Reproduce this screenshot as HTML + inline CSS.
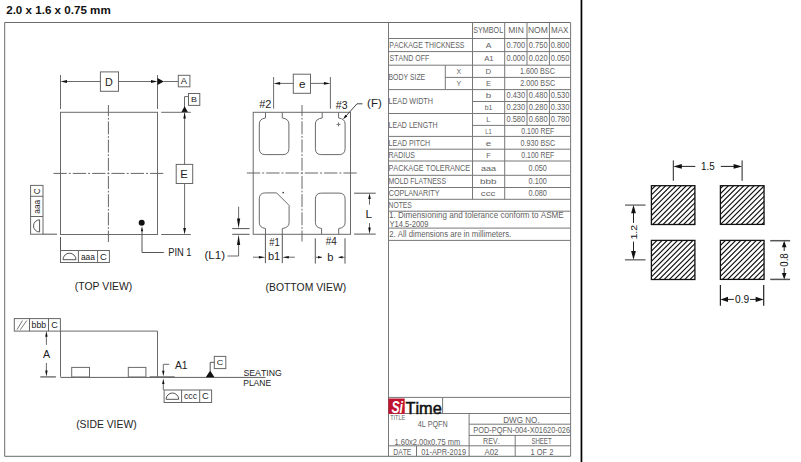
<!DOCTYPE html><html><head><meta charset="utf-8"><style>html,body{margin:0;padding:0;background:#fff;overflow:hidden}svg{display:block}text{font-family:"Liberation Sans",sans-serif;font-kerning:none}</style></head><body>
<svg width="801" height="462" viewBox="0 0 801 462">
<rect width="801" height="462" fill="#fff"/>
<text x="6.20" y="13.9" font-size="11" fill="#111" font-weight="bold" textLength="104.52" lengthAdjust="spacingAndGlyphs" >2.0 x 1.6 x 0.75 mm</text>
<line x1="4.7" y1="22.5" x2="570.5" y2="22.5" stroke="#6a6a6a" stroke-width="1"/>
<line x1="4.7" y1="22.5" x2="4.7" y2="456.3" stroke="#6a6a6a" stroke-width="1"/>
<line x1="4.7" y1="456.3" x2="570.5" y2="456.3" stroke="#6a6a6a" stroke-width="1"/>
<rect x="580.6" y="0" width="1.7" height="462" fill="#000"/>
<line x1="60.5" y1="75" x2="60.5" y2="109" stroke="#6a6a6a" stroke-width="1"/>
<line x1="157.5" y1="75" x2="157.5" y2="109" stroke="#6a6a6a" stroke-width="1"/>
<line x1="64" y1="81.5" x2="100.4" y2="81.5" stroke="#6a6a6a" stroke-width="1"/>
<line x1="118.5" y1="81.5" x2="154" y2="81.5" stroke="#6a6a6a" stroke-width="1"/>
<polygon points="60.5,81.5 67.00,80.10 67.00,82.90" fill="#111"/>
<polygon points="157.5,81.5 151.00,82.90 151.00,80.10" fill="#111"/>
<rect x="100.4" y="71.9" width="18.10" height="19.40" stroke="#666" stroke-width="1" fill="none" rx="0"/>
<text x="105.11" y="85.6" font-size="11.5" fill="#222" textLength="7.80" lengthAdjust="spacingAndGlyphs" >D</text>
<polygon points="157.5,78.1 157.5,84.9 163.8,81.5" fill="#111"/>
<line x1="163.5" y1="81.5" x2="178.3" y2="81.5" stroke="#6a6a6a" stroke-width="1"/>
<rect x="178.3" y="75.3" width="11.60" height="11.50" stroke="#666" stroke-width="1" fill="none" rx="0"/>
<text x="180.78" y="83.9" font-size="8.5" fill="#222" textLength="6.24" lengthAdjust="spacingAndGlyphs" >A</text>
<rect x="188.5" y="93.5" width="11.30" height="11.90" stroke="#666" stroke-width="1" fill="none" rx="0"/>
<text x="191.08" y="101.8" font-size="8.0" fill="#222" textLength="5.89" lengthAdjust="spacingAndGlyphs" >B</text>
<path d="M188.5,96.6 H184.5 V108" stroke="#6a6a6a" stroke-width="1" fill="none"/>
<polygon points="181.3,112.3 188.0,112.3 184.6,106.2" fill="#111"/>
<line x1="161.2" y1="112.3" x2="190.8" y2="112.3" stroke="#6a6a6a" stroke-width="1"/>
<line x1="161.2" y1="234.5" x2="190.8" y2="234.5" stroke="#6a6a6a" stroke-width="1"/>
<line x1="184.6" y1="112.3" x2="184.6" y2="164.4" stroke="#6a6a6a" stroke-width="1"/>
<line x1="184.6" y1="183.5" x2="184.6" y2="230" stroke="#6a6a6a" stroke-width="1"/>
<polygon points="184.6,112.6 185.90,118.60 183.30,118.60" fill="#111"/>
<polygon points="184.6,234.5 183.20,228.00 186.00,228.00" fill="#111"/>
<rect x="176.2" y="164.4" width="16.50" height="19.10" stroke="#666" stroke-width="1" fill="none" rx="0"/>
<text x="180.18" y="178.0" font-size="11.5" fill="#222" textLength="7.51" lengthAdjust="spacingAndGlyphs" >E</text>
<rect x="60.5" y="112.3" width="97.00" height="122.20" stroke="#6a6a6a" stroke-width="1" fill="none" rx="0"/>
<line x1="108.4" y1="105" x2="108.4" y2="242" stroke="#666" stroke-width="1" stroke-dasharray="13.0 1.7 1.8 1.7" stroke-dashoffset="-16.40"/>
<line x1="52.8" y1="173.4" x2="164.6" y2="173.4" stroke="#666" stroke-width="1" stroke-dasharray="13.3 2.0 2.0 2.0" stroke-dashoffset="-0.70"/>
<circle cx="141.7" cy="222.7" r="3" fill="#111"/>
<path d="M142,231 V252.5 H163.8" stroke="#555" stroke-width="1" fill="none"/>
<polygon points="142,226.3 143.20,231.30 140.80,231.30" fill="#111"/>
<text x="168.24" y="256.0" font-size="10" fill="#222" textLength="23.32" lengthAdjust="spacingAndGlyphs" >PIN 1</text>
<rect x="30.6" y="185.4" width="12.40" height="48.80" stroke="#666" stroke-width="1" fill="none" rx="0"/>
<line x1="30.6" y1="196.3" x2="43.0" y2="196.3" stroke="#666" stroke-width="1"/>
<line x1="30.6" y1="216.5" x2="43.0" y2="216.5" stroke="#666" stroke-width="1"/>
<g transform="translate(39.9,193.9) rotate(-90)"><text x="-0.42" y="0" font-size="8.2" fill="#222" textLength="5.93" lengthAdjust="spacingAndGlyphs" >C</text></g>
<g transform="translate(39.9,213.3) rotate(-90)"><text x="-0.35" y="0" font-size="8.6" fill="#222" textLength="13.75" lengthAdjust="spacingAndGlyphs" >aaa</text></g>
<path d="M39.6,219.8 A6.1,6.1 0 0 0 39.6,232 Z" stroke="#555" stroke-width="1" fill="none"/>
<line x1="43.0" y1="234.2" x2="57" y2="234.2" stroke="#555" stroke-width="1"/>
<line x1="60.5" y1="237" x2="60.5" y2="250.5" stroke="#555" stroke-width="1"/>
<rect x="60.5" y="250.5" width="48.90" height="12.00" stroke="#666" stroke-width="1" fill="none" rx="0"/>
<line x1="78.4" y1="250.5" x2="78.4" y2="262.5" stroke="#666" stroke-width="1"/>
<line x1="97.6" y1="250.5" x2="97.6" y2="262.5" stroke="#666" stroke-width="1"/>
<path d="M63,259.7 A6.5,6.5 0 0 1 76,259.7 Z" stroke="#555" stroke-width="1" fill="none"/>
<text x="80.94" y="259.7" font-size="8.8" fill="#222" textLength="14.06" lengthAdjust="spacingAndGlyphs" >aaa</text>
<text x="100.03" y="259.8" font-size="8.6" fill="#222" textLength="6.73" lengthAdjust="spacingAndGlyphs" >C</text>
<text x="74.76" y="289.9" font-size="10.5" fill="#222" textLength="57.48" lengthAdjust="spacingAndGlyphs" >(TOP VIEW)</text>
<rect x="253.2" y="112.3" width="97.30" height="122.00" stroke="#6a6a6a" stroke-width="1" fill="none" rx="0"/>
<line x1="273.6" y1="77" x2="273.6" y2="108.7" stroke="#6a6a6a" stroke-width="1"/>
<line x1="330.4" y1="77" x2="330.4" y2="108.7" stroke="#6a6a6a" stroke-width="1"/>
<line x1="277" y1="83.4" x2="293.3" y2="83.4" stroke="#6a6a6a" stroke-width="1"/>
<line x1="310.5" y1="83.4" x2="327" y2="83.4" stroke="#6a6a6a" stroke-width="1"/>
<polygon points="273.6,83.4 280.10,82.00 280.10,84.80" fill="#111"/>
<polygon points="330.4,83.4 323.90,84.80 323.90,82.00" fill="#111"/>
<rect x="293.3" y="74.2" width="17.20" height="19.10" stroke="#666" stroke-width="1" fill="none" rx="0"/>
<text x="299.00" y="87.8" font-size="11.5" fill="#222" textLength="6.52" lengthAdjust="spacingAndGlyphs" >e</text>
<text x="259.25" y="107.8" font-size="11" fill="#222" textLength="12.20" lengthAdjust="spacingAndGlyphs" >#2</text>
<text x="335.85" y="109.4" font-size="11" fill="#222" textLength="11.71" lengthAdjust="spacingAndGlyphs" >#3</text>
<line x1="302" y1="105" x2="302" y2="241.5" stroke="#666" stroke-width="1" stroke-dasharray="13.0 1.7 1.8 1.7" stroke-dashoffset="-16.30"/>
<line x1="246.2" y1="173" x2="358.2" y2="173" stroke="#666" stroke-width="1" stroke-dasharray="13.3 2.0 2.0 2.0" stroke-dashoffset="-0.70"/>
<path d="M265.5,112.3 V118 Q259.3,118.8 259.3,124 V148.6 Q259.3,154.6 265.3,154.6 H282.9 Q288.9,154.6 288.9,148.6 V124 Q288.9,118.8 282.3,118 V112.3" stroke="#6a6a6a" stroke-width="1" fill="none"/>
<path d="M322.2,112.3 V118 Q315.4,118.8 315.4,124 V148.6 Q315.4,154.6 321.4,154.6 H339.1 Q345.1,154.6 345.1,148.6 V124 Q345.1,118.8 338.6,118 V112.3" stroke="#6a6a6a" stroke-width="1" fill="none"/>
<path d="M265.5,234.3 V228.5 Q259.3,227.7 259.3,222.5 V198.9 Q259.3,192.9 265.3,192.9 H276.6 L289.1,205.4 V222.5 Q289.1,227.7 282.3,228.5 V234.3" stroke="#6a6a6a" stroke-width="1" fill="none"/>
<path d="M321.6,234.3 V228.5 Q315.4,227.7 315.4,222.5 V199.1 Q315.4,193.1 321.4,193.1 H339.1 Q345.1,193.1 345.1,199.1 V222.5 Q345.1,227.7 338.7,228.5 V234.3" stroke="#6a6a6a" stroke-width="1" fill="none"/>
<line x1="336.5" y1="124.4" x2="340.5" y2="124.4" stroke="#6a6a6a" stroke-width="0.9"/>
<line x1="338.5" y1="122.4" x2="338.5" y2="126.4" stroke="#6a6a6a" stroke-width="0.9"/>
<circle cx="283.2" cy="192.6" r="0.9" fill="#444"/>
<path d="M344.5,117.7 L357,103.8 H362.5" stroke="#444" stroke-width="1" fill="none"/>
<polygon points="343.0,119.3 345.39,114.73 347.31,116.47" fill="#111"/>
<text x="367.09" y="107.0" font-size="10.8" fill="#222" textLength="14.62" lengthAdjust="spacingAndGlyphs" >(F)</text>
<line x1="232.2" y1="228.6" x2="249.6" y2="228.6" stroke="#555" stroke-width="1"/>
<line x1="232.2" y1="234.3" x2="249.6" y2="234.3" stroke="#555" stroke-width="1"/>
<line x1="238.6" y1="206.7" x2="238.6" y2="220" stroke="#6a6a6a" stroke-width="1"/>
<polygon points="238.6,228.6 237.00,218.60 240.20,218.60" fill="#111"/>
<path d="M238.6,242 V256 H227.5" stroke="#6a6a6a" stroke-width="1" fill="none"/>
<polygon points="238.6,234.6 240.20,245.10 237.00,245.10" fill="#111"/>
<text x="204.48" y="259.2" font-size="10.8" fill="#222" textLength="20.53" lengthAdjust="spacingAndGlyphs" >(L1)</text>
<line x1="265.4" y1="234.3" x2="265.4" y2="263.2" stroke="#555" stroke-width="1"/>
<line x1="282.3" y1="234.3" x2="282.3" y2="263.2" stroke="#555" stroke-width="1"/>
<line x1="253" y1="257.2" x2="260" y2="257.2" stroke="#6a6a6a" stroke-width="1"/>
<polygon points="265.4,257.2 258.90,258.40 258.90,256.00" fill="#111"/>
<line x1="294.9" y1="257.2" x2="288" y2="257.2" stroke="#6a6a6a" stroke-width="1"/>
<polygon points="282.3,257.2 288.80,256.00 288.80,258.40" fill="#111"/>
<text x="269.26" y="245.7" font-size="10" fill="#222" textLength="10.50" lengthAdjust="spacingAndGlyphs" >#1</text>
<text x="267.99" y="260.3" font-size="10.5" fill="#222" textLength="12.25" lengthAdjust="spacingAndGlyphs" >b1</text>
<line x1="315.3" y1="238.3" x2="315.3" y2="263.6" stroke="#555" stroke-width="1"/>
<line x1="345" y1="238.3" x2="345" y2="263.6" stroke="#555" stroke-width="1"/>
<line x1="315.3" y1="257.3" x2="322" y2="257.3" stroke="#6a6a6a" stroke-width="1"/>
<polygon points="322,257.3 318.00,258.50 318.00,256.10" fill="#111"/>
<line x1="345" y1="257.3" x2="338.5" y2="257.3" stroke="#6a6a6a" stroke-width="1"/>
<polygon points="338.5,257.3 342.50,256.10 342.50,258.50" fill="#111"/>
<text x="325.66" y="244.6" font-size="10.3" fill="#222" textLength="11.03" lengthAdjust="spacingAndGlyphs" >#4</text>
<text x="327.18" y="260.7" font-size="10.3" fill="#222" textLength="6.18" lengthAdjust="spacingAndGlyphs" >b</text>
<line x1="354.1" y1="193.2" x2="375.7" y2="193.2" stroke="#555" stroke-width="1"/>
<line x1="354.1" y1="234.1" x2="375.7" y2="234.1" stroke="#555" stroke-width="1"/>
<line x1="369.5" y1="196" x2="369.5" y2="204.7" stroke="#6a6a6a" stroke-width="1"/>
<line x1="369.5" y1="223.1" x2="369.5" y2="231" stroke="#6a6a6a" stroke-width="1"/>
<polygon points="369.5,193.2 370.80,198.90 368.20,198.90" fill="#111"/>
<polygon points="369.5,234.1 368.20,227.50 370.80,227.50" fill="#111"/>
<text x="365.43" y="217.8" font-size="11" fill="#222" textLength="6.56" lengthAdjust="spacingAndGlyphs" >L</text>
<text x="265.56" y="290.6" font-size="10.5" fill="#222" textLength="80.59" lengthAdjust="spacingAndGlyphs" >(BOTTOM VIEW)</text>
<rect x="14.3" y="318.6" width="46.10" height="12.50" stroke="#666" stroke-width="1" fill="none" rx="0"/>
<line x1="29.5" y1="318.6" x2="29.5" y2="331.1" stroke="#666" stroke-width="1"/>
<line x1="48.5" y1="318.6" x2="48.5" y2="331.1" stroke="#666" stroke-width="1"/>
<line x1="17" y1="329.7" x2="22.5" y2="320.5" stroke="#6a6a6a" stroke-width="0.9"/>
<line x1="20.3" y1="329.7" x2="26.8" y2="320.5" stroke="#6a6a6a" stroke-width="0.9"/>
<text x="31.64" y="327.9" font-size="8.2" fill="#222" textLength="14.53" lengthAdjust="spacingAndGlyphs" >bbb</text>
<text x="51.23" y="328.1" font-size="8.2" fill="#222" textLength="6.61" lengthAdjust="spacingAndGlyphs" >C</text>
<path d="M60.4,331.1 H157.5 V376.8" stroke="#6a6a6a" stroke-width="1" fill="none"/>
<line x1="60.5" y1="331.1" x2="60.5" y2="376.8" stroke="#6a6a6a" stroke-width="1"/>
<line x1="60.5" y1="377.4" x2="265.5" y2="377.4" stroke="#606060" stroke-width="1"/>
<rect x="71.7" y="367.4" width="17.80" height="9.60" stroke="#6a6a6a" stroke-width="1" fill="none" rx="0"/>
<rect x="128.3" y="367.4" width="17.60" height="9.60" stroke="#6a6a6a" stroke-width="1" fill="none" rx="0"/>
<line x1="46.4" y1="336" x2="46.4" y2="344.9" stroke="#6a6a6a" stroke-width="1"/>
<polygon points="46.4,331.1 47.60,336.80 45.20,336.80" fill="#111"/>
<line x1="46.4" y1="363" x2="46.4" y2="371" stroke="#6a6a6a" stroke-width="1"/>
<polygon points="46.4,376.6 45.20,370.60 47.60,370.60" fill="#111"/>
<line x1="40.3" y1="376.9" x2="55.9" y2="376.9" stroke="#777" stroke-width="1.5"/>
<text x="42.98" y="357.9" font-size="11" fill="#222" textLength="7.14" lengthAdjust="spacingAndGlyphs" >A</text>
<line x1="149.7" y1="377.1" x2="174.6" y2="377.1" stroke="#666" stroke-width="1.6"/>
<path d="M169.3,364.3 H163.3 V371" stroke="#6a6a6a" stroke-width="1" fill="none"/>
<polygon points="163.3,376.2 162.10,370.70 164.50,370.70" fill="#111"/>
<line x1="163.3" y1="383" x2="163.3" y2="390" stroke="#6a6a6a" stroke-width="1"/>
<polygon points="163.3,378.4 164.50,384.10 162.10,384.10" fill="#111"/>
<text x="174.98" y="368.7" font-size="10.8" fill="#222" textLength="12.62" lengthAdjust="spacingAndGlyphs" >A1</text>
<polygon points="205.8,377.2 214.4,377.2 210.2,370.6" fill="#111"/>
<path d="M210.2,371 V362.3 H214.3" stroke="#555" stroke-width="1" fill="none"/>
<rect x="214.3" y="356.4" width="11.50" height="12.20" stroke="#666" stroke-width="1" fill="none" rx="0"/>
<text x="216.74" y="365.4" font-size="8" fill="#222" textLength="6.50" lengthAdjust="spacingAndGlyphs" >C</text>
<text x="243.50" y="375.6" font-size="9.3" fill="#222" textLength="38.25" lengthAdjust="spacingAndGlyphs" >SEATING</text>
<text x="243.20" y="385.8" font-size="9.3" fill="#222" textLength="27.97" lengthAdjust="spacingAndGlyphs" >PLANE</text>
<rect x="164.1" y="390" width="47.50" height="12.50" stroke="#666" stroke-width="1" fill="none" rx="0"/>
<line x1="181.6" y1="390" x2="181.6" y2="402.5" stroke="#666" stroke-width="1"/>
<line x1="199.7" y1="390" x2="199.7" y2="402.5" stroke="#666" stroke-width="1"/>
<path d="M166.1,399.3 A6.3,6.3 0 0 1 178.7,399.3 Z" stroke="#555" stroke-width="1" fill="none"/>
<text x="183.93" y="399.0" font-size="8.8" fill="#222" textLength="13.10" lengthAdjust="spacingAndGlyphs" >ccc</text>
<text x="202.13" y="399.0" font-size="8.5" fill="#222" textLength="6.73" lengthAdjust="spacingAndGlyphs" >C</text>
<text x="76.16" y="427.7" font-size="10.5" fill="#222" textLength="60.49" lengthAdjust="spacingAndGlyphs" >(SIDE VIEW)</text>
<defs><clipPath id="cp0"><rect x="651.4" y="185.7" width="43.50" height="38.80"/></clipPath><clipPath id="cp1"><rect x="720.4" y="185.7" width="43.65" height="38.70"/></clipPath><clipPath id="cp2"><rect x="651.4" y="240.4" width="43.50" height="39.10"/></clipPath><clipPath id="cp3"><rect x="720.4" y="240.4" width="43.65" height="39.00"/></clipPath></defs>
<g clip-path="url(#cp0)"><path d="M604.35,226.50 L647.15,183.70 M609.50,226.50 L652.30,183.70 M614.65,226.50 L657.45,183.70 M619.80,226.50 L662.60,183.70 M624.95,226.50 L667.75,183.70 M630.10,226.50 L672.90,183.70 M635.25,226.50 L678.05,183.70 M640.40,226.50 L683.20,183.70 M645.55,226.50 L688.35,183.70 M650.70,226.50 L693.50,183.70 M655.85,226.50 L698.65,183.70 M661.00,226.50 L703.80,183.70 M666.15,226.50 L708.95,183.70 M671.30,226.50 L714.10,183.70 M676.45,226.50 L719.25,183.70 M681.60,226.50 L724.40,183.70 M686.75,226.50 L729.55,183.70 M691.90,226.50 L734.70,183.70 M697.05,226.50 L739.85,183.70 " stroke="#111" stroke-width="1.15" fill="none"/></g>
<rect x="651.4" y="185.7" width="43.50" height="38.80" stroke="#111" stroke-width="1.3" fill="none" rx="0"/>
<g clip-path="url(#cp1)"><path d="M672.25,226.40 L714.95,183.70 M677.40,226.40 L720.10,183.70 M682.55,226.40 L725.25,183.70 M687.70,226.40 L730.40,183.70 M692.85,226.40 L735.55,183.70 M698.00,226.40 L740.70,183.70 M703.15,226.40 L745.85,183.70 M708.30,226.40 L751.00,183.70 M713.45,226.40 L756.15,183.70 M718.60,226.40 L761.30,183.70 M723.75,226.40 L766.45,183.70 M728.90,226.40 L771.60,183.70 M734.05,226.40 L776.75,183.70 M739.20,226.40 L781.90,183.70 M744.35,226.40 L787.05,183.70 M749.50,226.40 L792.20,183.70 M754.65,226.40 L797.35,183.70 M759.80,226.40 L802.50,183.70 M764.95,226.40 L807.65,183.70 " stroke="#111" stroke-width="1.15" fill="none"/></g>
<rect x="720.4" y="185.7" width="43.65" height="38.70" stroke="#111" stroke-width="1.3" fill="none" rx="0"/>
<g clip-path="url(#cp2)"><path d="M605.55,281.50 L648.65,238.40 M610.70,281.50 L653.80,238.40 M615.85,281.50 L658.95,238.40 M621.00,281.50 L664.10,238.40 M626.15,281.50 L669.25,238.40 M631.30,281.50 L674.40,238.40 M636.45,281.50 L679.55,238.40 M641.60,281.50 L684.70,238.40 M646.75,281.50 L689.85,238.40 M651.90,281.50 L695.00,238.40 M657.05,281.50 L700.15,238.40 M662.20,281.50 L705.30,238.40 M667.35,281.50 L710.45,238.40 M672.50,281.50 L715.60,238.40 M677.65,281.50 L720.75,238.40 M682.80,281.50 L725.90,238.40 M687.95,281.50 L731.05,238.40 M693.10,281.50 L736.20,238.40 " stroke="#111" stroke-width="1.15" fill="none"/></g>
<rect x="651.4" y="240.4" width="43.50" height="39.10" stroke="#111" stroke-width="1.3" fill="none" rx="0"/>
<g clip-path="url(#cp3)"><path d="M674.15,281.40 L717.15,238.40 M679.30,281.40 L722.30,238.40 M684.45,281.40 L727.45,238.40 M689.60,281.40 L732.60,238.40 M694.75,281.40 L737.75,238.40 M699.90,281.40 L742.90,238.40 M705.05,281.40 L748.05,238.40 M710.20,281.40 L753.20,238.40 M715.35,281.40 L758.35,238.40 M720.50,281.40 L763.50,238.40 M725.65,281.40 L768.65,238.40 M730.80,281.40 L773.80,238.40 M735.95,281.40 L778.95,238.40 M741.10,281.40 L784.10,238.40 M746.25,281.40 L789.25,238.40 M751.40,281.40 L794.40,238.40 M756.55,281.40 L799.55,238.40 M761.70,281.40 L804.70,238.40 M766.85,281.40 L809.85,238.40 " stroke="#111" stroke-width="1.15" fill="none"/></g>
<rect x="720.4" y="240.4" width="43.65" height="39.00" stroke="#111" stroke-width="1.3" fill="none" rx="0"/>
<line x1="673.3" y1="160.4" x2="673.3" y2="180.8" stroke="#222" stroke-width="1"/>
<line x1="742.1" y1="160.4" x2="742.1" y2="180.8" stroke="#222" stroke-width="1"/>
<line x1="680" y1="166.4" x2="695.3" y2="166.4" stroke="#222" stroke-width="1"/>
<polygon points="673.3,166.4 681.80,164.00 681.80,168.80" fill="#111"/>
<line x1="720.8" y1="166.4" x2="735" y2="166.4" stroke="#222" stroke-width="1"/>
<polygon points="742.1,166.4 733.60,168.80 733.60,164.00" fill="#111"/>
<text x="700.95" y="169.9" font-size="10.2" fill="#111" textLength="13.66" lengthAdjust="spacingAndGlyphs" >1.5</text>
<line x1="625" y1="205.1" x2="645.5" y2="205.1" stroke="#777" stroke-width="1.5"/>
<line x1="625" y1="259.8" x2="645.5" y2="259.8" stroke="#777" stroke-width="1.5"/>
<line x1="633.5" y1="212" x2="633.5" y2="222.9" stroke="#222" stroke-width="1"/>
<polygon points="633.5,205.1 635.90,213.20 631.10,213.20" fill="#111"/>
<line x1="633.5" y1="241.6" x2="633.5" y2="252" stroke="#222" stroke-width="1"/>
<polygon points="633.5,259.8 631.10,251.00 635.90,251.00" fill="#111"/>
<g transform="translate(636.5,238.8) rotate(-90)"><text x="-0.81" y="0" font-size="9.9" fill="#111" textLength="14.85" lengthAdjust="spacingAndGlyphs" >1.2</text></g>
<line x1="770.2" y1="240.7" x2="790.1" y2="240.7" stroke="#555" stroke-width="1.5"/>
<line x1="770.2" y1="279.4" x2="790.1" y2="279.4" stroke="#555" stroke-width="1.5"/>
<line x1="784.2" y1="246" x2="784.2" y2="251" stroke="#222" stroke-width="1"/>
<polygon points="784.2,240.7 786.50,247.20 781.90,247.20" fill="#111"/>
<line x1="784.2" y1="268" x2="784.2" y2="273" stroke="#222" stroke-width="1"/>
<polygon points="784.2,279.4 781.90,272.90 786.50,272.90" fill="#111"/>
<g transform="translate(788.0,266.3) rotate(-90)"><text x="-0.38" y="0" font-size="10.3" fill="#111" textLength="13.40" lengthAdjust="spacingAndGlyphs" >0.8</text></g>
<line x1="720.4" y1="284.9" x2="720.4" y2="305.7" stroke="#222" stroke-width="1.2"/>
<line x1="763.7" y1="284.9" x2="763.7" y2="305.7" stroke="#222" stroke-width="1.2"/>
<line x1="726" y1="299.4" x2="733.9" y2="299.4" stroke="#222" stroke-width="1"/>
<polygon points="720.4,299.4 728.00,296.80 728.00,302.00" fill="#111"/>
<line x1="750.1" y1="299.4" x2="758" y2="299.4" stroke="#222" stroke-width="1"/>
<polygon points="763.7,299.4 755.60,302.00 755.60,296.80" fill="#111"/>
<text x="735.10" y="303.1" font-size="10.6" fill="#111" textLength="14.18" lengthAdjust="spacingAndGlyphs" >0.9</text>
<line x1="570.6" y1="22.5" x2="570.6" y2="456.3" stroke="#777" stroke-width="1"/>
<line x1="388.5" y1="22.5" x2="388.5" y2="456.3" stroke="#777" stroke-width="1"/>
<line x1="388.5" y1="38.5" x2="570.6" y2="38.5" stroke="#777" stroke-width="1"/>
<line x1="388.5" y1="51.6" x2="570.6" y2="51.6" stroke="#777" stroke-width="1"/>
<line x1="388.5" y1="65.2" x2="570.6" y2="65.2" stroke="#777" stroke-width="1"/>
<line x1="388.5" y1="89.6" x2="570.6" y2="89.6" stroke="#777" stroke-width="1"/>
<line x1="388.5" y1="113.5" x2="570.6" y2="113.5" stroke="#777" stroke-width="1"/>
<line x1="388.5" y1="136.4" x2="570.6" y2="136.4" stroke="#777" stroke-width="1"/>
<line x1="388.5" y1="149.2" x2="570.6" y2="149.2" stroke="#777" stroke-width="1"/>
<line x1="388.5" y1="161.0" x2="570.6" y2="161.0" stroke="#777" stroke-width="1"/>
<line x1="388.5" y1="175.3" x2="570.6" y2="175.3" stroke="#777" stroke-width="1"/>
<line x1="388.5" y1="187.5" x2="570.6" y2="187.5" stroke="#777" stroke-width="1"/>
<line x1="388.5" y1="199.3" x2="570.6" y2="199.3" stroke="#777" stroke-width="1"/>
<line x1="388.5" y1="211.2" x2="570.6" y2="211.2" stroke="#777" stroke-width="1"/>
<line x1="388.5" y1="228.1" x2="570.6" y2="228.1" stroke="#777" stroke-width="1"/>
<line x1="388.5" y1="240.4" x2="570.6" y2="240.4" stroke="#777" stroke-width="1"/>
<line x1="445.3" y1="77.4" x2="570.6" y2="77.4" stroke="#777" stroke-width="1"/>
<line x1="472.5" y1="101.5" x2="570.6" y2="101.5" stroke="#777" stroke-width="1"/>
<line x1="472.5" y1="125.4" x2="570.6" y2="125.4" stroke="#777" stroke-width="1"/>
<line x1="472.5" y1="22.5" x2="472.5" y2="199.3" stroke="#777" stroke-width="1"/>
<line x1="445.3" y1="65.2" x2="445.3" y2="89.6" stroke="#777" stroke-width="1"/>
<line x1="504.7" y1="22.5" x2="504.7" y2="199.3" stroke="#777" stroke-width="1"/>
<line x1="527.0" y1="22.5" x2="527.0" y2="65.2" stroke="#777" stroke-width="1"/>
<line x1="549.4" y1="22.5" x2="549.4" y2="65.2" stroke="#777" stroke-width="1"/>
<line x1="527.0" y1="89.6" x2="527.0" y2="125.4" stroke="#777" stroke-width="1"/>
<line x1="549.4" y1="89.6" x2="549.4" y2="125.4" stroke="#777" stroke-width="1"/>
<text x="473.27" y="33.3" font-size="8.4" fill="#626262" textLength="29.86" lengthAdjust="spacingAndGlyphs" >SYMBOL</text>
<text x="508.20" y="33.3" font-size="8.4" fill="#626262" textLength="15.59" lengthAdjust="spacingAndGlyphs" >MIN</text>
<text x="527.90" y="33.3" font-size="8.4" fill="#626262" textLength="19.90" lengthAdjust="spacingAndGlyphs" >NOM</text>
<text x="551.04" y="33.3" font-size="8.4" fill="#626262" textLength="17.43" lengthAdjust="spacingAndGlyphs" >MAX</text>
<text x="389.33" y="47.85" font-size="8.4" fill="#626262" textLength="75.09" lengthAdjust="spacingAndGlyphs" >PACKAGE THICKNESS</text>
<text x="485.78" y="47.85" font-size="7.8" fill="#626262" textLength="5.63" lengthAdjust="spacingAndGlyphs" >A</text>
<text x="506.51" y="47.85" font-size="8.4" fill="#626262" textLength="18.68" lengthAdjust="spacingAndGlyphs" >0.700</text>
<text x="528.86" y="47.85" font-size="8.4" fill="#626262" textLength="18.68" lengthAdjust="spacingAndGlyphs" >0.750</text>
<text x="550.66" y="47.85" font-size="8.4" fill="#626262" textLength="18.68" lengthAdjust="spacingAndGlyphs" >0.800</text>
<text x="389.58" y="61.2" font-size="8.4" fill="#626262" textLength="39.70" lengthAdjust="spacingAndGlyphs" >STAND OFF</text>
<text x="484.18" y="61.2" font-size="7.8" fill="#626262" textLength="9.49" lengthAdjust="spacingAndGlyphs" >A1</text>
<text x="506.51" y="61.2" font-size="8.4" fill="#626262" textLength="18.68" lengthAdjust="spacingAndGlyphs" >0.000</text>
<text x="528.86" y="61.2" font-size="8.4" fill="#626262" textLength="18.68" lengthAdjust="spacingAndGlyphs" >0.020</text>
<text x="550.66" y="61.2" font-size="8.4" fill="#626262" textLength="18.68" lengthAdjust="spacingAndGlyphs" >0.050</text>
<text x="388.54" y="80.2" font-size="8.4" fill="#626262" textLength="36.66" lengthAdjust="spacingAndGlyphs" >BODY SIZE</text>
<text x="456.60" y="74.1" font-size="7.6" fill="#626262" textLength="4.60" lengthAdjust="spacingAndGlyphs" >X</text>
<text x="485.60" y="74.1" font-size="7.8" fill="#626262" textLength="5.73" lengthAdjust="spacingAndGlyphs" >D</text>
<text x="520.05" y="74.1" font-size="8.4" fill="#626262" textLength="34.82" lengthAdjust="spacingAndGlyphs" >1.600 BSC</text>
<text x="456.60" y="86.3" font-size="7.6" fill="#626262" textLength="4.60" lengthAdjust="spacingAndGlyphs" >Y</text>
<text x="485.93" y="86.3" font-size="7.8" fill="#626262" textLength="5.05" lengthAdjust="spacingAndGlyphs" >E</text>
<text x="520.24" y="86.3" font-size="8.4" fill="#626262" textLength="34.94" lengthAdjust="spacingAndGlyphs" >2.000 BSC</text>
<text x="388.51" y="104.35" font-size="8.4" fill="#626262" textLength="44.48" lengthAdjust="spacingAndGlyphs" >LEAD WIDTH</text>
<text x="485.77" y="98.35" font-size="7.8" fill="#626262" textLength="5.44" lengthAdjust="spacingAndGlyphs" >b</text>
<text x="506.51" y="98.35" font-size="8.4" fill="#626262" textLength="18.68" lengthAdjust="spacingAndGlyphs" >0.430</text>
<text x="528.86" y="98.35" font-size="8.4" fill="#626262" textLength="18.68" lengthAdjust="spacingAndGlyphs" >0.480</text>
<text x="550.66" y="98.35" font-size="8.4" fill="#626262" textLength="18.68" lengthAdjust="spacingAndGlyphs" >0.530</text>
<text x="484.70" y="110.3" font-size="7.8" fill="#626262" textLength="7.68" lengthAdjust="spacingAndGlyphs" >b1</text>
<text x="506.51" y="110.3" font-size="8.4" fill="#626262" textLength="18.68" lengthAdjust="spacingAndGlyphs" >0.230</text>
<text x="528.86" y="110.3" font-size="8.4" fill="#626262" textLength="18.68" lengthAdjust="spacingAndGlyphs" >0.280</text>
<text x="550.66" y="110.3" font-size="8.4" fill="#626262" textLength="18.68" lengthAdjust="spacingAndGlyphs" >0.330</text>
<text x="486.34" y="122.25" font-size="7.8" fill="#626262" textLength="4.16" lengthAdjust="spacingAndGlyphs" >L</text>
<text x="506.51" y="122.25" font-size="8.4" fill="#626262" textLength="18.68" lengthAdjust="spacingAndGlyphs" >0.580</text>
<text x="528.86" y="122.25" font-size="8.4" fill="#626262" textLength="18.68" lengthAdjust="spacingAndGlyphs" >0.680</text>
<text x="550.66" y="122.25" font-size="8.4" fill="#626262" textLength="18.68" lengthAdjust="spacingAndGlyphs" >0.780</text>
<text x="388.52" y="127.75" font-size="8.4" fill="#626262" textLength="49.06" lengthAdjust="spacingAndGlyphs" >LEAD LENGTH</text>
<text x="485.27" y="133.7" font-size="7.8" fill="#626262" textLength="6.46" lengthAdjust="spacingAndGlyphs" >L1</text>
<text x="521.33" y="133.7" font-size="8.4" fill="#626262" textLength="32.95" lengthAdjust="spacingAndGlyphs" >0.100 REF</text>
<text x="388.52" y="145.6" font-size="8.4" fill="#626262" textLength="41.66" lengthAdjust="spacingAndGlyphs" >LEAD PITCH</text>
<text x="485.88" y="145.6" font-size="7.8" fill="#626262" textLength="5.45" lengthAdjust="spacingAndGlyphs" >e</text>
<text x="520.52" y="145.6" font-size="8.4" fill="#626262" textLength="34.65" lengthAdjust="spacingAndGlyphs" >0.930 BSC</text>
<text x="388.53" y="157.9" font-size="8.4" fill="#626262" textLength="26.29" lengthAdjust="spacingAndGlyphs" >RADIUS</text>
<text x="486.20" y="157.9" font-size="7.8" fill="#626262" textLength="4.50" lengthAdjust="spacingAndGlyphs" >F</text>
<text x="521.33" y="157.9" font-size="8.4" fill="#626262" textLength="32.95" lengthAdjust="spacingAndGlyphs" >0.100 REF</text>
<text x="388.50" y="170.95" font-size="8.4" fill="#626262" textLength="81.71" lengthAdjust="spacingAndGlyphs" >PACKAGE TOLERANCE</text>
<text x="480.92" y="170.95" font-size="7.8" fill="#626262" textLength="15.08" lengthAdjust="spacingAndGlyphs" >aaa</text>
<text x="528.61" y="170.95" font-size="8.4" fill="#626262" textLength="18.27" lengthAdjust="spacingAndGlyphs" >0.050</text>
<text x="388.53" y="184.2" font-size="8.4" fill="#626262" textLength="57.48" lengthAdjust="spacingAndGlyphs" >MOLD FLATNESS</text>
<text x="480.07" y="184.2" font-size="7.8" fill="#626262" textLength="16.34" lengthAdjust="spacingAndGlyphs" >bbb</text>
<text x="528.61" y="184.2" font-size="8.4" fill="#626262" textLength="18.27" lengthAdjust="spacingAndGlyphs" >0.100</text>
<text x="388.74" y="196.2" font-size="8.4" fill="#626262" textLength="50.72" lengthAdjust="spacingAndGlyphs" >COPLANARITY</text>
<text x="480.89" y="196.2" font-size="7.8" fill="#626262" textLength="14.46" lengthAdjust="spacingAndGlyphs" >ccc</text>
<text x="528.61" y="196.2" font-size="8.4" fill="#626262" textLength="18.27" lengthAdjust="spacingAndGlyphs" >0.080</text>
<text x="388.55" y="207.9" font-size="8.4" fill="#626262" textLength="23.16" lengthAdjust="spacingAndGlyphs" >NOTES</text>
<text x="388.98" y="218.3" font-size="8.4" fill="#626262" textLength="174.76" lengthAdjust="spacingAndGlyphs" >1. Dimensioning and tolerance conform to ASME</text>
<text x="389.43" y="226.8" font-size="8.4" fill="#626262" textLength="39.12" lengthAdjust="spacingAndGlyphs" >Y14.5-2009</text>
<text x="389.21" y="236.5" font-size="8.4" fill="#626262" textLength="122.00" lengthAdjust="spacingAndGlyphs" >2. All dimensions are in millimeters.</text>
<line x1="388.5" y1="397.4" x2="570.6" y2="397.4" stroke="#777" stroke-width="1"/>
<line x1="388.5" y1="413.5" x2="570.6" y2="413.5" stroke="#777" stroke-width="1"/>
<line x1="442.6" y1="397.4" x2="442.6" y2="413.5" stroke="#777" stroke-width="1"/>
<line x1="469.1" y1="413.5" x2="469.1" y2="456.3" stroke="#777" stroke-width="1"/>
<line x1="469.1" y1="424.2" x2="570.6" y2="424.2" stroke="#777" stroke-width="1"/>
<line x1="469.1" y1="435.4" x2="570.6" y2="435.4" stroke="#777" stroke-width="1"/>
<line x1="388.5" y1="445.8" x2="570.6" y2="445.8" stroke="#777" stroke-width="1"/>
<line x1="416.5" y1="445.8" x2="416.5" y2="456.3" stroke="#777" stroke-width="1"/>
<line x1="515.2" y1="435.4" x2="515.2" y2="456.3" stroke="#777" stroke-width="1"/>
<rect x="388.4" y="398.5" width="16.3" height="15.3" fill="#c0132f"/>
<text x="391.45" y="412.9" font-size="16.0" fill="#fff" font-weight="bold" textLength="11.54" lengthAdjust="spacingAndGlyphs" font-style="italic">Si</text>
<text x="405.53" y="413.6" font-size="17.2" fill="#111" textLength="36.29" lengthAdjust="spacingAndGlyphs" stroke="#111" stroke-width="0.55">Time</text>
<text x="390.18" y="420.4" font-size="7.6" fill="#626262" textLength="14.96" lengthAdjust="spacingAndGlyphs" >TITLE</text>
<text x="417.74" y="426.5" font-size="8.4" fill="#626262" textLength="29.95" lengthAdjust="spacingAndGlyphs" >4L PQFN</text>
<text x="394.53" y="444.8" font-size="8.4" fill="#626262" textLength="65.66" lengthAdjust="spacingAndGlyphs" >1.60x2.00x0.75 mm</text>
<text x="393.24" y="454.5" font-size="8.4" fill="#626262" textLength="18.15" lengthAdjust="spacingAndGlyphs" >DATE</text>
<text x="421.21" y="454.5" font-size="8.4" fill="#626262" textLength="44.84" lengthAdjust="spacingAndGlyphs" >01-APR-2019</text>
<text x="503.13" y="422.5" font-size="8.4" fill="#626262" textLength="36.51" lengthAdjust="spacingAndGlyphs" >DWG NO.</text>
<text x="473.29" y="433.0" font-size="8.4" fill="#626262" textLength="96.83" lengthAdjust="spacingAndGlyphs" >POD-PQFN-004-X01620-026</text>
<text x="483.12" y="443.7" font-size="8.4" fill="#626262" textLength="16.53" lengthAdjust="spacingAndGlyphs" >REV.</text>
<text x="531.42" y="443.7" font-size="8.4" fill="#626262" textLength="20.21" lengthAdjust="spacingAndGlyphs" >SHEET</text>
<text x="484.38" y="454.5" font-size="8.4" fill="#626262" textLength="14.01" lengthAdjust="spacingAndGlyphs" >A02</text>
<text x="530.43" y="454.5" font-size="8.4" fill="#626262" textLength="22.95" lengthAdjust="spacingAndGlyphs" >1 OF 2</text>
</svg></body></html>
